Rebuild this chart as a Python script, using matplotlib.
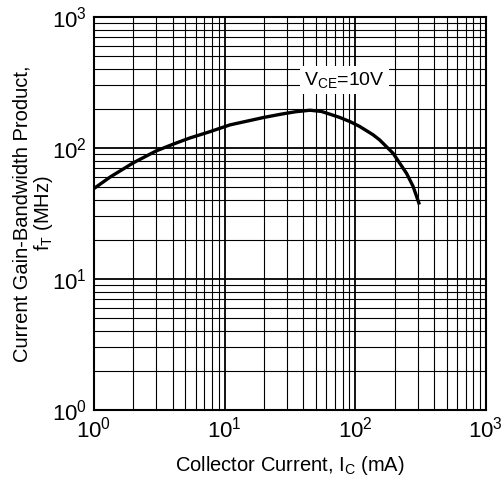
import matplotlib
matplotlib.use('Agg')
import matplotlib.pyplot as plt
import numpy as np

# Du lieu doc tu hinh: Ic (mA) va fT (MHz)
ic_ma = [1.0, 1.33, 2.0, 3.0, 4.05, 5.4, 7.7, 11, 20, 27, 35, 45, 55, 64,
         76, 91, 108, 137, 154, 195, 247, 277, 307]
ft_mhz = [49, 60, 77, 95, 107, 119, 133, 150, 171, 181, 189, 194, 190, 181,
          171, 159, 146, 126, 115, 91, 64, 51, 38]

plt.rcParams['font.family'] = ['Liberation Sans', 'DejaVu Sans']
plt.rcParams['mathtext.fontset'] = 'custom'
plt.rcParams['mathtext.rm'] = 'Liberation Sans'
plt.rcParams['mathtext.it'] = 'Liberation Sans'

fig = plt.figure(figsize=(5.04, 4.84), dpi=100)
ax = fig.add_axes([0.1865, 0.153, 0.7775, 0.812])

ax.set_xscale('log')
ax.set_yscale('log')
ax.set_xlim(1, 1000)
ax.set_ylim(1, 1000)

# luoi phu va luoi chinh
ax.grid(True, which='minor', color='black', linewidth=0.8)
ax.grid(True, which='major', color='black', linewidth=1.3)
ax.set_axisbelow(True)

ax.plot(ic_ma, ft_mhz, color='black', linewidth=2.4, solid_joinstyle='round')

ax.text(83, 330, r'V$_{\mathrm{CE}}$=10V', fontsize=14, ha='center', va='center',
        bbox=dict(facecolor='white', edgecolor='none', pad=3))

ax.tick_params(which='both', length=0, labelsize=16, pad=5)
for s in ax.spines.values():
    s.set_linewidth(1.5)

ax.set_xlabel('Collector Current, I$_{\\mathrm{C}}$ (mA)', fontsize=14.5, labelpad=8)
ax.set_ylabel('Current Gain-Bandwidth Product,\nf$_{\\mathrm{T}}$ (MHz)', fontsize=14.5,
              linespacing=1.0)
ax.yaxis.set_label_coords(-0.10, 0.5)

plt.savefig('out.png', dpi=100)
plt.close(fig)
